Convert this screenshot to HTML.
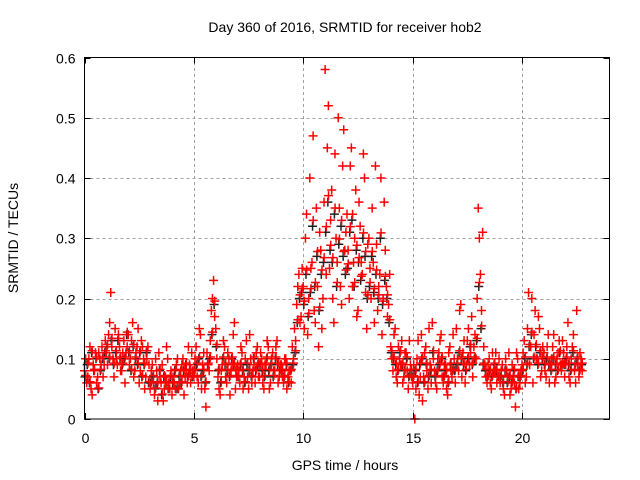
<!DOCTYPE html>
<html><head><meta charset="utf-8"><style>
body{margin:0;background:#fff}
svg{display:block;font-family:"Liberation Sans",sans-serif}
</style></head><body>
<svg id="chart" width="640" height="480" viewBox="0 0 640 480">
<text x="345" y="32" font-size="14" text-anchor="middle">Day 360 of 2016, SRMTID for receiver hob2</text>
<g id="grid"></g>
<g id="axes"></g>
<g id="marks"></g>
<rect x="84.5" y="57.5" width="525" height="361.5" fill="none" stroke="#000" stroke-width="1"/>
<text x="345" y="470" font-size="14" text-anchor="middle">GPS time / hours</text>
<text transform="translate(18,238) rotate(-90)" font-size="14" text-anchor="middle">SRMTID / TECUs</text>
</svg>
<script>
const xTicks=[0,5,10,15,20];
const yTicks=[0,0.1,0.2,0.3,0.4,0.5,0.6];
const yTickLabels=["0","0.1","0.2","0.3","0.4","0.5","0.6"];
const sampleStepHours=0.1;
const seriesAStart=0.0, seriesBStart=0.05, seriesCStart=0.025;
const seriesA=[.08,.06,.10,.05,.09,.11,.07,.10,.12,.09,
.11,.14,.21,.10,.15,.09,.12,.08,.13,.11,
.14,.10,.16,.08,.12,.06,.13,.10,.07,.12,
.05,.09,.04,.08,.11,.06,.03,.07,.10,.05,
.04,.06,.09,.05,.08,.10,.07,.06,.09,.11,
.07,.12,.06,.14,.09,.05,.11,.08,.18,.23,
.15,.07,.04,.09,.12,.06,.10,.08,.14,.05,
.09,.06,.11,.07,.13,.05,.10,.08,.06,.12,
.07,.10,.05,.09,.12,.06,.11,.08,.13,.07,
.09,.06,.10,.07,.08,.12,.15,.19,.24,.17,
.22,.30,.14,.40,.26,.18,.35,.12,.28,.20,
.58,.45,.25,.38,.16,.30,.50,.22,.42,.28,
.34,.20,.45,.26,.38,.18,.32,.24,.40,.15,
.30,.20,.26,.42,.18,.24,.14,.36,.22,.19,
.12,.08,.15,.06,.10,.13,.07,.11,.05,.09,
.06,.00,.10,.04,.14,.07,.12,.05,.09,.16,
.08,.05,.11,.14,.06,.09,.04,.12,.07,.10,
.15,.08,.19,.11,.06,.13,.09,.17,.12,.10,
.35,.24,.31,.09,.06,.10,.05,.08,.11,.07,
.06,.09,.04,.08,.11,.05,.07,.02,.10,.06,
.09,.13,.07,.21,.12,.06,.18,.10,.15,.08,
.11,.07,.14,.09,.12,.06,.10,.13,.08,.11,
.09,.16,.06,.12,.08,.18,.07,.10];
const seriesB=[.10,.07,.12,.04,.08,.06,.11,.09,.07,.13,
.09,.16,.12,.07,.10,.14,.08,.11,.06,.12,
.09,.13,.07,.11,.15,.08,.12,.05,.10,.09,
.08,.06,.10,.03,.07,.09,.05,.12,.06,.08,
.07,.05,.10,.06,.09,.04,.08,.12,.06,.08,
.10,.07,.15,.05,.11,.02,.09,.13,.20,.17,
.10,.05,.08,.13,.07,.11,.04,.09,.16,.07,
.08,.12,.05,.10,.07,.14,.06,.09,.11,.07,
.11,.06,.09,.13,.05,.10,.08,.12,.06,.09,
.07,.10,.05,.08,.06,.10,.13,.22,.16,.25,
.15,.34,.20,.25,.47,.16,.22,.31,.15,.36,
.24,.52,.33,.20,.44,.26,.35,.19,.48,.31,
.28,.42,.22,.30,.17,.36,.26,.44,.21,.29,
.25,.35,.16,.29,.22,.40,.20,.28,.17,.24,
.10,.14,.07,.12,.09,.06,.11,.08,.13,.07,
.09,.05,.13,.07,.03,.11,.08,.15,.06,.10,
.06,.10,.13,.07,.09,.05,.11,.08,.14,.06,
.10,.18,.07,.13,.09,.15,.11,.07,.14,.20,
.30,.18,.12,.07,.09,.06,.11,.08,.06,.10,
.08,.05,.10,.07,.04,.09,.06,.11,.05,.08,
.11,.06,.15,.09,.20,.14,.10,.17,.07,.12,
.08,.12,.06,.10,.14,.07,.11,.09,.13,.07,
.12,.07,.10,.14,.06,.09,.11,.08];
const seriesC=[.07,.09,.06,.11,.08,.10,.05,.08,.10,.11,
.12,.10,.13,.09,.11,.13,.10,.09,.10,.14,
.11,.08,.12,.10,.09,.11,.07,.09,.11,.06,
.06,.07,.05,.06,.08,.04,.07,.06,.05,.07,
.06,.08,.05,.07,.06,.08,.09,.07,.08,.07,
.08,.09,.10,.07,.08,.06,.09,.10,.14,.19,
.12,.08,.06,.10,.09,.08,.07,.10,.09,.08,
.07,.09,.08,.06,.09,.08,.07,.10,.08,.09,
.09,.08,.07,.10,.08,.09,.07,.10,.09,.08,
.08,.07,.09,.06,.08,.09,.11,.16,.20,.21,
.19,.24,.17,.21,.32,.22,.27,.18,.24,.26,
.31,.36,.28,.26,.34,.22,.29,.32,.27,.24,
.25,.31,.33,.22,.28,.26,.23,.30,.27,.20,
.22,.27,.21,.24,.20,.30,.19,.23,.20,.16,
.11,.10,.09,.08,.11,.09,.08,.10,.07,.08,
.07,.08,.06,.09,.10,.06,.09,.07,.08,.11,
.07,.08,.09,.10,.07,.08,.06,.09,.08,.08,
.09,.11,.10,.09,.08,.10,.12,.09,.10,.13,
.22,.15,.09,.08,.07,.08,.07,.09,.08,.07,
.07,.06,.08,.06,.07,.06,.08,.05,.07,.07,
.08,.10,.09,.12,.14,.10,.12,.09,.11,.10,
.09,.10,.09,.08,.10,.09,.08,.11,.09,.09,
.10,.09,.08,.11,.09,.10,.08,.09];

const NS="http://www.w3.org/2000/svg";
const X0=84.5,X1=609.5,Y0=419,Y1=57.5,XMAX=24,YMAX=0.6;
function xs(v){return X0+(X1-X0)*v/XMAX;}
function ys(v){return Y0-(Y0-Y1)*v/YMAX;}
function mk(tag,attrs,parent){const e=document.createElementNS(NS,tag);for(const k in attrs)e.setAttribute(k,attrs[k]);parent.appendChild(e);return e;}
const grid=document.getElementById('grid'),axes=document.getElementById('axes'),marks=document.getElementById('marks');
yTicks.forEach((t,i)=>{
  const y=Math.round(ys(t))+0.5;
  if(t>0&&t<YMAX){const g=mk('line',{x1:X0,x2:X1,y1:y,y2:y,stroke:'#a0a0a0','stroke-dasharray':'3,3'},grid);
  
  }
  mk('line',{x1:X0,x2:X0+6,y1:y,y2:y,stroke:'#000'},axes);
  mk('line',{x1:X1,x2:X1-6,y1:y,y2:y,stroke:'#000'},axes);
  const tx=mk('text',{x:X0-9,y:y+5,'font-size':'14','text-anchor':'end'},axes);
  tx.textContent=yTickLabels[i];
  
  
});
xTicks.forEach(t=>{
  const x=Math.round(xs(t))+0.5;
  if(t>0){const g=mk('line',{x1:x,x2:x,y1:Y0,y2:Y1,stroke:'#a0a0a0','stroke-dasharray':'3,3'},grid);
  
  }
  mk('line',{x1:x,x2:x,y1:Y0,y2:Y0-6,stroke:'#000'},axes);
  mk('line',{x1:x,x2:x,y1:Y1,y2:Y1+6,stroke:'#000'},axes);
  const tx=mk('text',{x:x,y:443,'font-size':'14','text-anchor':'middle'},axes);
  tx.textContent=String(t);
  
  
});
function plus(t,v,color,name){
  const x=xs(t),y=ys(v);
  const p=mk('path',{d:`M${x-4.5},${y}H${x+4.5}M${x},${y-4.5}V${y+4.5}`,stroke:color,'stroke-width':'1.5',fill:'none'},marks);
  
  
}
seriesC.forEach((v,i)=>plus(seriesCStart+i*sampleStepHours,v,'#202020','point-dark'));
seriesA.forEach((v,i)=>plus(seriesAStart+i*sampleStepHours,v,'#ff0000','point-red'));
seriesB.forEach((v,i)=>plus(seriesBStart+i*sampleStepHours,v,'#ff0000','point-red'));
seriesC.forEach((v,i)=>plus(seriesCStart+i*sampleStepHours+0.03,v*1.03,'#ff0000','point-red'));
</script>
</body></html>
